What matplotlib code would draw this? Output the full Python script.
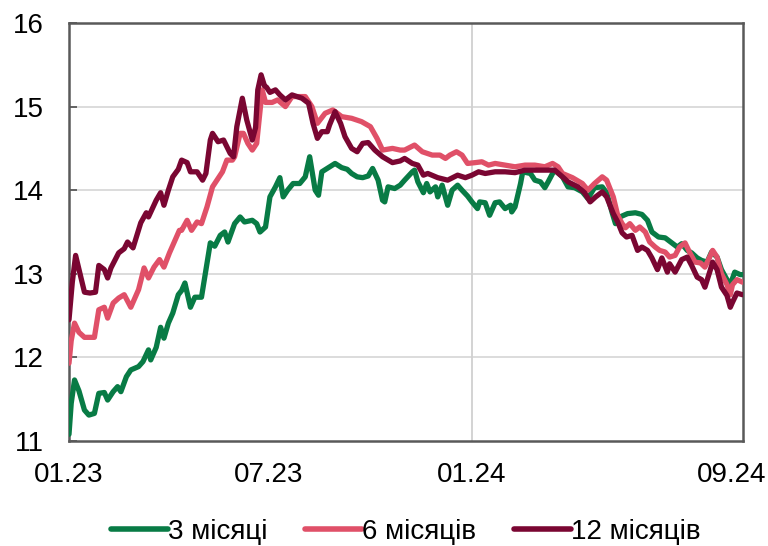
import numpy as np
import matplotlib
matplotlib.use("Agg")
import matplotlib.pyplot as plt
import matplotlib.transforms as mtransforms

plt.rcParams['font.family'] = ['Liberation Sans', 'DejaVu Sans']

start = np.datetime64('2023-01-01')

# 3-month series: day offsets from 2023-01-01 and yields (%)
days_3m = [0, 2, 5, 9, 14, 18, 23, 27, 32, 35, 40, 44, 47, 52, 56, 63, 67, 72, 74, 79,
           83, 86, 90, 94, 99, 102, 105, 110, 114, 120, 125, 128, 132, 137, 141, 144, 150, 155, 159, 166,
           170, 173, 178, 182, 187, 191, 194, 198, 203, 209, 214, 218, 223, 226, 229, 235, 241, 247, 252, 256,
           261, 266, 271, 275, 280, 284, 286, 289, 295, 300, 304, 311, 313, 316, 321, 324, 327, 332, 334, 338,
           343, 347, 352, 356, 361, 365, 370, 372, 377, 381, 386, 390, 395, 400, 401, 404, 409, 411, 418, 422,
           427, 431, 434, 438, 440, 447, 452, 458, 465, 470, 476, 483, 487, 492, 495, 499, 506, 513, 519, 524,
           528, 534, 540, 546, 551, 555, 560, 564, 569, 573, 578, 582, 587, 591, 596, 599, 603, 608, 610]
vals_3m = [11.08, 11.45, 11.73, 11.60, 11.37, 11.31, 11.33, 11.57, 11.58, 11.49, 11.59, 11.65, 11.59, 11.77, 11.85, 11.89, 11.95, 12.09, 11.97, 12.12,
           12.36, 12.23, 12.41, 12.53, 12.75, 12.80, 12.89, 12.60, 12.72, 12.72, 13.13, 13.37, 13.33, 13.46, 13.50, 13.38, 13.60, 13.68, 13.62, 13.64,
           13.60, 13.50, 13.56, 13.92, 14.04, 14.15, 13.92, 14.00, 14.08, 14.08, 14.16, 14.40, 14.00, 13.94, 14.22, 14.27, 14.32, 14.27, 14.25, 14.20,
           14.16, 14.15, 14.17, 14.26, 14.12, 13.88, 13.86, 14.04, 14.02, 14.06, 14.12, 14.22, 14.24, 14.10, 13.97, 14.08, 13.98, 14.04, 13.92, 14.06,
           13.82, 14.00, 14.06, 14.00, 13.93, 13.86, 13.78, 13.86, 13.85, 13.70, 13.85, 13.86, 13.78, 13.82, 13.74, 13.80, 14.08, 14.22, 14.20, 14.12,
           14.10, 14.03, 14.10, 14.20, 14.24, 14.16, 14.04, 14.03, 13.98, 13.90, 14.03, 14.04, 13.97, 13.73, 13.60, 13.68, 13.72, 13.73, 13.71, 13.64,
           13.50, 13.44, 13.43, 13.37, 13.32, 13.36, 13.28, 13.25, 13.19, 13.16, 13.14, 13.26, 13.20, 13.05, 12.93, 12.87, 13.02, 12.99, 12.99]

# 6-month series
days_6m = [0, 2, 5, 9, 14, 23, 27, 32, 35, 40, 45, 50, 56, 63, 68, 72, 77, 82, 86, 91,
           95, 100, 102, 107, 111, 116, 120, 125, 130, 134, 139, 143, 148, 150, 155, 158, 162, 166, 170, 175,
           178, 184, 189, 196, 202, 214, 220, 225, 232, 239, 247, 256, 265, 273, 279, 284, 293, 300, 304, 313,
           320, 329, 336, 341, 345, 351, 356, 361, 368, 374, 380, 386, 395, 404, 413, 422, 431, 438, 443, 447,
           456, 465, 470, 476, 483, 487, 493, 497, 501, 504, 508, 513, 517, 522, 526, 531, 535, 540, 544, 549,
           553, 558, 562, 567, 572, 576, 581, 583, 587, 591, 596, 599, 601, 605, 610]
vals_6m = [11.93, 12.20, 12.41, 12.30, 12.24, 12.24, 12.57, 12.60, 12.47, 12.65, 12.71, 12.75, 12.60, 12.81, 13.07, 12.95, 13.08, 13.17, 13.08, 13.25,
           13.37, 13.52, 13.52, 13.64, 13.52, 13.62, 13.60, 13.80, 14.04, 14.12, 14.22, 14.36, 14.36, 14.40, 14.68, 14.68, 14.56, 14.48, 14.56, 15.20,
           15.05, 15.05, 15.08, 15.00, 15.12, 15.12, 15.00, 14.80, 14.92, 14.96, 14.88, 14.86, 14.82, 14.76, 14.62, 14.48, 14.50, 14.48, 14.48, 14.54,
           14.46, 14.42, 14.42, 14.38, 14.42, 14.46, 14.42, 14.32, 14.33, 14.34, 14.30, 14.32, 14.30, 14.28, 14.30, 14.30, 14.28, 14.32, 14.28, 14.20,
           14.15, 14.08, 14.00, 14.08, 14.16, 14.12, 13.92, 13.70, 13.60, 13.55, 13.60, 13.52, 13.56, 13.50, 13.38, 13.32, 13.28, 13.26, 13.20, 13.22,
           13.32, 13.37, 13.26, 13.14, 13.13, 13.08, 13.22, 13.28, 13.20, 13.00, 12.87, 12.75, 12.87, 12.93, 12.90]

# 12-month series
days_12m = [0, 3, 6, 10, 14, 19, 24, 27, 32, 35, 38, 45, 50, 53, 58, 65, 70, 72, 79, 83,
            86, 90, 94, 99, 102, 107, 110, 116, 121, 124, 128, 130, 135, 140, 146, 149, 152, 157, 161, 166,
            169, 171, 174, 177, 179, 182, 187, 191, 196, 202, 211, 217, 221, 225, 229, 234, 236, 241, 246, 250,
            256, 261, 266, 271, 277, 284, 293, 300, 304, 311, 316, 321, 325, 334, 343, 352, 359, 365, 371, 377,
            386, 395, 404, 413, 422, 431, 440, 447, 452, 461, 467, 472, 477, 483, 487, 493, 497, 501, 505, 510,
            515, 519, 524, 528, 533, 537, 542, 544, 549, 555, 560, 564, 569, 573, 576, 581, 583, 587, 591, 596,
            599, 601, 605, 610]
vals_12m = [12.45, 12.90, 13.22, 13.00, 12.78, 12.77, 12.78, 13.10, 13.05, 12.95, 13.07, 13.25, 13.30, 13.38, 13.31, 13.61, 13.73, 13.68, 13.88, 13.97,
            13.82, 14.00, 14.16, 14.25, 14.36, 14.33, 14.22, 14.22, 14.12, 14.20, 14.60, 14.68, 14.58, 14.60, 14.44, 14.40, 14.76, 15.10, 14.84, 14.60,
            14.75, 15.20, 15.38, 15.25, 15.23, 15.17, 15.20, 15.14, 15.08, 15.14, 15.10, 15.04, 14.80, 14.62, 14.70, 14.70, 14.78, 14.94, 14.80, 14.64,
            14.50, 14.46, 14.56, 14.57, 14.48, 14.40, 14.33, 14.35, 14.38, 14.32, 14.30, 14.18, 14.20, 14.15, 14.12, 14.18, 14.15, 14.18, 14.22, 14.20,
            14.22, 14.22, 14.21, 14.24, 14.24, 14.24, 14.24, 14.16, 14.10, 14.04, 13.97, 13.86, 13.92, 13.98, 13.92, 13.72, 13.62, 13.49, 13.44, 13.46,
            13.28, 13.32, 13.28, 13.19, 13.05, 13.19, 13.02, 13.12, 13.02, 13.17, 13.20, 13.10, 12.96, 12.93, 12.84, 13.05, 13.14, 13.05, 12.84, 12.74,
            12.60, 12.66, 12.77, 12.75]

labels = ['3 місяці', '6 місяців', '12 місяців']
colors = ['#087B45', '#E05068', '#7A0632']

tick_dates = ['2023-01-01', '2023-07-01', '2024-01-01', '2024-09-01']
tick_labels = ['01.23', '07.23', '01.24', '09.24']
y_ticks = [11, 12, 13, 14, 15, 16]

fig = plt.figure(figsize=(7.68, 5.46), dpi=100)
ax = fig.add_axes([69/768, 1-441/546, (743-69)/768, (441-23)/546])

series = [(days_3m, vals_3m), (days_6m, vals_6m), (days_12m, vals_12m)]
for (d, v), lab, c in zip(series, labels, colors):
    dates = start + np.array(d).astype('timedelta64[D]')
    ax.plot(dates, v, color=c, lw=3.8, label=lab, solid_joinstyle='round',
            solid_capstyle='round', zorder=3)

ax.set_ylim(11, 16)
ax.set_xlim(np.datetime64('2023-01-01'), np.datetime64('2024-09-02T12:00'))
ax.set_yticks(y_ticks)
ax.set_yticklabels([str(t) for t in y_ticks])
for t in y_ticks[1:-1]:
    ax.axhline(t, color='#D9D9D9', lw=1.3, zorder=1)
ax.axvline(np.datetime64('2024-01-01'), color='#D0D0D0', lw=1.3, zorder=1)

ax.set_xticks([np.datetime64(t) for t in tick_dates])
ax.set_xticklabels(tick_labels)
ax.tick_params(axis='x', length=0, pad=15, labelsize=20, colors='#000000')
ax.tick_params(axis='y', direction='in', length=6, width=1.3, color='#595959', pad=18, labelsize=20)
last = ax.get_xticklabels()[-1]
last.set_horizontalalignment('right')
last.set_transform(last.get_transform() + mtransforms.ScaledTranslation(0.25, 0, fig.dpi_scale_trans))

for s in ax.spines.values():
    s.set_color('#595959')
    s.set_linewidth(1.8)

leg = fig.legend(loc='center', bbox_to_anchor=(406/768, 1-532/546), ncol=3, frameon=False,
                 fontsize=20, handlelength=2.05, handletextpad=0.0, columnspacing=1.35,
                 borderaxespad=0)
for h in leg.get_lines():
    h.set_linewidth(4)
    h.set_solid_capstyle('round')

fig.savefig('out.png', dpi=100)
